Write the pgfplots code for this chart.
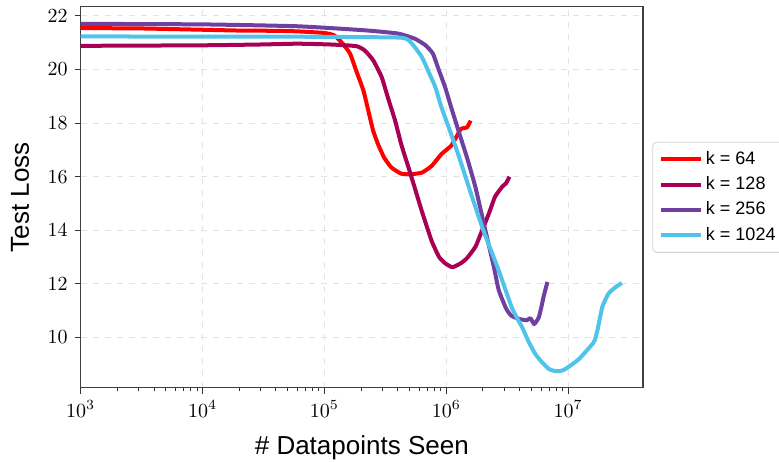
\documentclass[border=0pt]{standalone}
\usepackage{fontspec}
\setmainfont{Liberation Sans}
\usepackage{pgfplots}
\pgfplotsset{compat=1.18}
\definecolor{cRed}{RGB}{255,0,0}
\definecolor{cMag}{RGB}{168,0,85}
\definecolor{cPur}{RGB}{112,64,160}
\definecolor{cCya}{RGB}{80,195,235}
\begin{document}
\begin{tikzpicture}
\begin{axis}[
  name=ax,
  scale only axis,
  width=281pt, height=190.5pt,
  xmode=log,
  xmin=1000, xmax=4.11e7,
  ymin=8.12, ymax=22.34,
  ytick={10,12,14,16,18,20,22},
  xtick={1e3,1e4,1e5,1e6,1e7},
  tick pos=left,
  tick align=outside,
  major tick length=3pt,
  minor tick length=1.8pt,
  every tick/.style={black!80, line width=0.5pt},
  axis line style={black!75, line width=0.6pt},
  grid=major,
  major grid style={dashed, gray!22, line width=0.4pt},
  tick label style={font=\fontsize{10.4}{12}\selectfont},
  label style={font=\fontsize{13}{15}\selectfont},
  xlabel={\# Datapoints Seen},
  ylabel={Test Loss},
  xlabel style={at={(axis description cs:0.5,-0.158)}, anchor=center},
  ylabel style={at={(axis description cs:-0.108,0.5)}, anchor=center},
  legend style={at={(rel axis cs:1,0.5)}, anchor=west, xshift=4.7pt,
    draw=gray!35, rounded corners=2pt, fill=white,
    font=\fontsize{9}{10}\selectfont, row sep=1.4pt, inner sep=3pt,
    nodes={inner sep=1.6pt}},
  legend cell align=left,
  legend image code/.code={\draw[#1, line width=2pt] (0pt,0pt) -- (20pt,0pt);},
  every axis plot/.append style={line width=2pt, line join=round, no marks, smooth, tension=0.3},
]
\addplot[cRed] coordinates {
(1000,21.54) (3000,21.53) (10000,21.48) (20000,21.45) (40000,21.44) (60000,21.42)
(100000,21.36) (120200,21.27) (141300,20.96) (162200,20.59) (182000,19.96)
(208900,19.21) (229100,18.46) (251200,17.71) (275400,17.21) (309000,16.71)
(354800,16.34) (426600,16.11) (512900,16.09) (631000,16.15) (758600,16.40)
(912000,16.84) (1096000,17.15) (1202000,17.46) (1318000,17.78) (1479000,17.84)
(1585000,18.09)
};
\addlegendentry{k = 64}
\addplot[cMag] coordinates {
(1000,20.88) (10000,20.90) (30000,20.93) (60000,20.96) (112200,20.93)
(182000,20.87) (213800,20.71) (251200,20.34) (295100,19.71) (331100,18.96)
(380200,18.09) (426600,17.21) (489800,16.34) (549500,15.6) (631000,14.7)
(758600,13.6) (871000,13.01) (977200,12.77) (1122000,12.62) (1318000,12.77)
(1479000,12.96) (1738000,13.39) (1950000,13.95) (2239000,14.63) (2512000,15.25)
(2884000,15.63) (3090000,15.75) (3300000,16.0)
};
\addlegendentry{k = 128}
\addplot[cPur] coordinates {
(1000,21.70) (10000,21.68) (60000,21.61) (213800,21.46) (398100,21.34)
(549500,21.15) (676100,20.9) (776200,20.59) (851100,20.09) (977200,19.34)
(1096000,18.59) (1259000,17.71) (1479000,16.71) (1738000,15.59) (2089000,14.01)
(2455000,12.64) (2692000,11.77) (3090000,11.09) (3400000,10.82) (3890000,10.7)
(4571000,10.64) (4898000,10.72) (5248000,10.5) (5495000,10.6) (5754000,10.76)
(6026000,11.13) (6310000,11.55) (6761000,12.07)
};
\addlegendentry{k = 256}
\addplot[cCya] coordinates {
(1000,21.23) (60000,21.22) (398100,21.19) (489800,21.09) (549500,20.84)
(631000,20.46) (707900,19.96) (812800,19.34) (912000,18.59) (1047000,17.84)
(1259000,16.8) (1585000,15.4) (1995000,14.05) (2692000,12.5)
(3467000,11.09) (4169000,10.4) (4786000,9.8) (5370000,9.39) (6026000,9.1)
(6918000,8.83) (7586000,8.76) (8318000,8.74) (9120000,8.78) (10000000,8.89)
(12300000,9.2) (16220000,9.82) (17380000,10.26) (19050000,11.13) (21380000,11.63)
(24550000,11.88) (27540000,12.03)
};
\addlegendentry{k = 1024}
\end{axis}
\pgfresetboundingbox
\path[use as bounding box] ([xshift=-40.35pt,yshift=-36.65pt]ax.south west) rectangle ([xshift=68pt,yshift=3.35pt]ax.north east);
\end{tikzpicture}
\end{document}
